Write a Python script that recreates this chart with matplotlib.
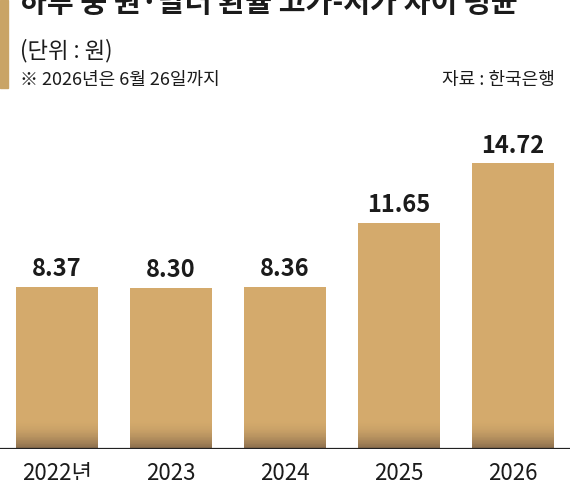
import numpy as np
import matplotlib.pyplot as plt
from matplotlib.patches import Rectangle
from matplotlib.colors import to_rgb

plt.rcParams['font.family'] = ['Noto Sans CJK KR', 'DejaVu Sans']

# ----------------------------
# Data
# ----------------------------
years = ['2022년', '2023', '2024', '2025', '2026']
values = [8.37, 8.30, 8.36, 11.65, 14.72]
value_labels = ['8.37', '8.30', '8.36', '11.65', '14.72']

title = '하루 중 원·달러 환율 고가-저가 차이 평균'
unit_text = '(단위 : 원)'
note_text = '※ 2026년은 6월 26일까지'
source_text = '자료 : 한국은행'

bar_color = '#d4aa6c'
dark_color = '#85694a'
text_color = '#1b1b1b'

# ----------------------------
# Figure
# ----------------------------
W, H = 570, 480
fig = plt.figure(figsize=(W / 100, H / 100), dpi=100)
fig.patch.set_facecolor('white')

# axes: bottom spine at y=449 px, 19.4 px per unit
ax_bottom = 1 - 449 / H
ax_top = 1 - 100 / H
ax = fig.add_axes([0, ax_bottom, 1, ax_top - ax_bottom])
ymax = (449 - 100) / 19.4

x = np.arange(len(values))
bar_w = 0.72
bars = ax.bar(x, values, width=bar_w, color=bar_color, zorder=2)

# soft dark fade at the foot of each bar, stacked thin strips
fade = 1.6
n_strips = 40
top_rgb = np.array(to_rgb(bar_color))
bot_rgb = np.array(to_rgb(dark_color))
dh = fade / n_strips
for j in range(n_strips):
    t = (j + 0.5) / n_strips
    k = (1 - t) ** 2.0
    c = bot_rgb * k + top_rgb * (1 - k)
    ax.bar(x, dh * 1.05, bottom=j * dh, width=bar_w, color=c, lw=0, zorder=3)

for i, b in enumerate(bars):
    ax.annotate(value_labels[i], (b.get_x() + b.get_width() / 2, b.get_height()),
                xytext=(0, 4), textcoords='offset points', ha='center', va='bottom',
                fontsize=17, fontweight='bold', color=text_color)

ax.axhline(0, color='#222222', lw=1.6, zorder=4)
ax.set_xlim(-0.5, len(values) - 0.5)
ax.set_ylim(0, ymax)
ax.set_xticks(x)
ax.set_xticklabels(years, fontsize=16, color=text_color)
ax.tick_params(axis='x', length=0, pad=9)
ax.set_yticks([])
for s in ax.spines.values():
    s.set_visible(False)

# header texts
fig.text(20 / W, 1 - 12 / H, title, fontsize=21, fontweight='bold',
         color=text_color, ha='left', va='baseline')
fig.text(20 / W, 1 - 57 / H, unit_text, fontsize=16, color=text_color,
         ha='left', va='baseline')
fig.text(20 / W, 1 - 85 / H, note_text, fontsize=13, color=text_color,
         ha='left', va='baseline')
fig.text(555 / W, 1 - 85 / H, source_text, fontsize=13, color=text_color,
         ha='right', va='baseline')

# gold accent on left
fig.patches.append(Rectangle((0, 1 - 88 / H), 8 / W, 88 / H, transform=fig.transFigure,
                             color='#c9a466', zorder=0))

fig.savefig('out.png', dpi=100)
